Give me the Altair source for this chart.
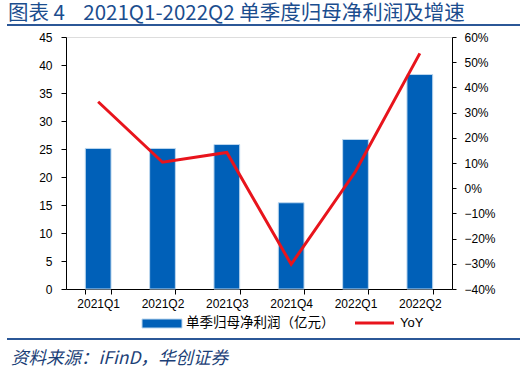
import altair as alt
import pandas as pd

quarters = ["2021Q1", "2021Q2", "2021Q3", "2021Q4", "2022Q1", "2022Q2"]
profit = [25.1, 25.1, 25.8, 15.4, 26.7, 38.3]
yoy = [0.343, 0.103, 0.142, -0.302, 0.066, 0.535]

left_ticks = [0, 5, 10, 15, 20, 25, 30, 35, 40, 45]
right_ticks = [-0.4, -0.3, -0.2, -0.1, 0.0, 0.1, 0.2, 0.3, 0.4, 0.5, 0.6]

title_text = "图表\u00a04\u00a0\u00a0\u00a0\u00a02021Q1-2022Q2 单季度归母净利润及增速"
footer_text = "资料来源：iFinD，华创证券"
legend_bar = "单季归母净利润（亿元）"
legend_line = "YoY"

df = pd.DataFrame({"q": quarters, "profit": profit, "yoy": yoy})

W, H = 386, 252
FONT = "Liberation Sans"
BLUE = "#0060B8"
RED = "#E8141C"
DARK = "#1B4D8E"

x_enc = alt.X("q:N", sort=quarters, title=None,
              scale=alt.Scale(paddingInner=0.6, paddingOuter=0.3),
              axis=alt.Axis(labelAngle=0, tickBand="extent", tickSize=5,
                            labelPadding=4, labelFontSize=12, labelFont=FONT,
                            labelColor="#000", domainColor="#000", tickColor="#000"))

bars = alt.Chart(df).mark_bar(color=BLUE, stroke="#BDD7EE", strokeWidth=1).encode(
    x=x_enc,
    y=alt.Y("profit:Q", title=None,
            scale=alt.Scale(domain=[0, 45], nice=False, zero=True),
            axis=alt.Axis(values=left_ticks, tickSize=5, labelPadding=9,
                          labelFontSize=12, labelFont=FONT, labelColor="#000",
                          domainColor="#000", tickColor="#000", grid=False)),
)

line = alt.Chart(df).mark_line(color=RED, strokeWidth=3).encode(
    x=alt.X("q:N", sort=quarters),
    y=alt.Y("yoy:Q", title=None,
            scale=alt.Scale(domain=[-0.4, 0.6], nice=False, zero=False),
            axis=alt.Axis(orient="right", values=right_ticks, format=".0%",
                          tickSize=4, labelPadding=8, labelFontSize=12,
                          labelFont=FONT, labelColor="#000", domainColor="#000",
                          tickColor="#000", grid=False)),
)

deco = pd.DataFrame({"k": [0]})
base = alt.Chart(deco)

title_mark = base.mark_text(align="left", baseline="alphabetic", fontSize=20.5,
                            font="Noto Sans CJK SC", color=DARK).encode(
    x=alt.value(-58), y=alt.value(-17.5), text=alt.value(title_text))
title_rule = base.mark_rule(color="#2B5797", strokeWidth=2).encode(
    x=alt.value(-59), x2=alt.value(W + 68), y=alt.value(-12))
footer_rule = base.mark_rule(color="#2B5797", strokeWidth=2).encode(
    x=alt.value(-59), x2=alt.value(W + 68), y=alt.value(H + 50))
footer_mark = base.mark_text(align="left", baseline="middle", fontSize=17.5,
                             font="Noto Sans CJK SC", fontStyle="italic",
                             color="#1C3F77").encode(
    x=alt.value(-55), y=alt.value(H + 70), text=alt.value(footer_text))

leg_rect = base.mark_rect(color=BLUE, stroke="#BDD7EE").encode(
    x=alt.value(76), x2=alt.value(116), y=alt.value(H + 30), y2=alt.value(H + 39))
leg_text1 = base.mark_text(align="left", baseline="middle", fontSize=13.5,
                           font="Noto Sans CJK SC", color="#000").encode(
    x=alt.value(120), y=alt.value(H + 34), text=alt.value(legend_bar))
leg_line = base.mark_rule(color=RED, strokeWidth=3).encode(
    x=alt.value(289), x2=alt.value(328), y=alt.value(H + 34))
leg_text2 = base.mark_text(align="left", baseline="middle", fontSize=13,
                           font=FONT, color="#000").encode(
    x=alt.value(334), y=alt.value(H + 34), text=alt.value(legend_line))

chart = alt.layer(
    bars, line, title_mark, title_rule, footer_rule, footer_mark,
    leg_rect, leg_text1, leg_line, leg_text2
).resolve_scale(y="independent").properties(
    width=W, height=H,
    autosize=alt.AutoSizeParams(type="none"),
    padding={"left": 66, "top": 37, "right": 68, "bottom": 87},
).configure_view(stroke=None).configure(background="white")

chart.save("out.html", embed_options={"renderer": "svg", "actions": False})
